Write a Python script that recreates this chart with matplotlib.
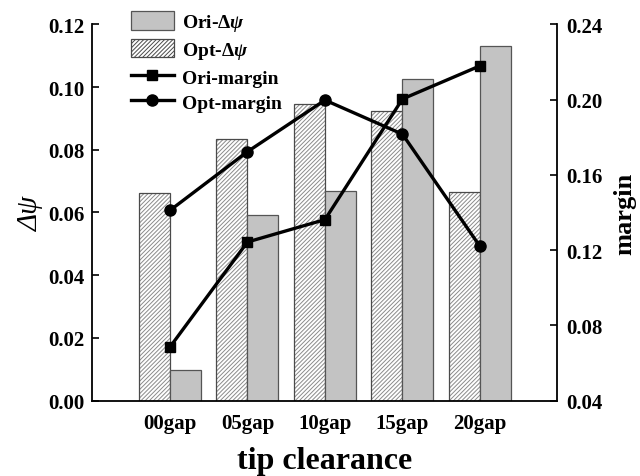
import matplotlib
matplotlib.use("Agg")
import matplotlib.pyplot as plt
import numpy as np

plt.rcParams['font.family'] = ['Liberation Serif', 'DejaVu Serif']
plt.rcParams['font.weight'] = 'bold'
plt.rcParams['mathtext.fontset'] = 'custom'
plt.rcParams['mathtext.it'] = 'Liberation Serif:italic:bold'
plt.rcParams['mathtext.rm'] = 'Liberation Serif:bold'
plt.rcParams['hatch.linewidth'] = 0.7

# Data
categories = ['00gap', '05gap', '10gap', '15gap', '20gap']
ori_dpsi = [0.0098, 0.0593, 0.0670, 0.1025, 0.1131]
opt_dpsi = [0.0662, 0.0834, 0.0945, 0.0924, 0.0665]
ori_margin = [0.0685, 0.1243, 0.1362, 0.2003, 0.2179]
opt_margin = [0.1411, 0.1723, 0.1997, 0.1816, 0.1220]
left_ticks = [0.00, 0.02, 0.04, 0.06, 0.08, 0.10, 0.12]
right_ticks = [0.04, 0.08, 0.12, 0.16, 0.20, 0.24]

fig = plt.figure(figsize=(6.4, 4.77), dpi=100)
ax = fig.add_axes([0.1445, 0.158, 0.7265, 0.789])
ax2 = ax.twinx()

x = np.arange(len(categories))
w = 0.4
# hatched bars: light grey hatch lines, then a darker outline on top
ax.bar(x - w / 2, opt_dpsi, w, facecolor='white', edgecolor='#8a8a8a',
       hatch='////////', linewidth=0)
b_opt = ax.bar(x - w / 2, opt_dpsi, w, facecolor='none', edgecolor='#4a4a4a',
               linewidth=0.9)
b_ori = ax.bar(x + w / 2, ori_dpsi, w, facecolor='#c3c3c3', edgecolor='#555555',
               linewidth=0.9)

l_ori, = ax2.plot(x, ori_margin, color='black', lw=2.4, marker='s', markersize=7)
l_opt, = ax2.plot(x, opt_margin, color='black', lw=2.4, marker='o', markersize=8)

ax.set_xlim(-1, 5)
ax.set_ylim(0, 0.12)
ax2.set_ylim(0.04, 0.24)
ax.set_yticks(left_ticks)
ax.set_yticklabels([f'{t:.2f}' for t in left_ticks])
ax2.set_yticks(right_ticks)
ax2.set_yticklabels([f'{t:.2f}' for t in right_ticks])
ax.set_xticks(x)
ax.set_xticklabels(categories)

for a in (ax, ax2):
    a.spines['top'].set_visible(False)
    for s in a.spines.values():
        s.set_linewidth(1.3)
ax.spines['right'].set_visible(False)
ax2.spines['left'].set_visible(False)
ax2.spines['bottom'].set_visible(False)

ax.tick_params(axis='y', direction='in', length=5, width=1.2, labelsize=15, pad=6)
ax2.tick_params(axis='y', direction='in', length=5, width=1.2, labelsize=15, pad=6)
ax.tick_params(axis='x', length=0, labelsize=15, pad=9)

ax.set_xlabel('tip clearance', fontsize=23, fontweight='bold', labelpad=9)
ax.set_ylabel('Δψ', fontsize=21, fontstyle='italic', fontweight='normal', labelpad=3)
ax2.set_ylabel('margin', fontsize=19, fontweight='bold', labelpad=8)

# legend proxy for the hatched bars
from matplotlib.patches import Patch
h_opt = Patch(facecolor='white', edgecolor='#4a4a4a', hatch='////////', linewidth=0.9)

ax2.legend([b_ori, h_opt, l_ori, l_opt],
           [r'Ori-$\mathit{\Delta\psi}$', r'Opt-$\mathit{\Delta\psi}$',
            'Ori-margin', 'Opt-margin'],
           loc='upper left', bbox_to_anchor=(131 / 640, 1 - 12 / 477),
           bbox_transform=fig.transFigure, frameon=False, fontsize=14,
           borderpad=0, borderaxespad=0, handlelength=2.2, handleheight=1.1,
           handletextpad=0.4, labelspacing=0.3)

fig.savefig('out.png', dpi=100)
